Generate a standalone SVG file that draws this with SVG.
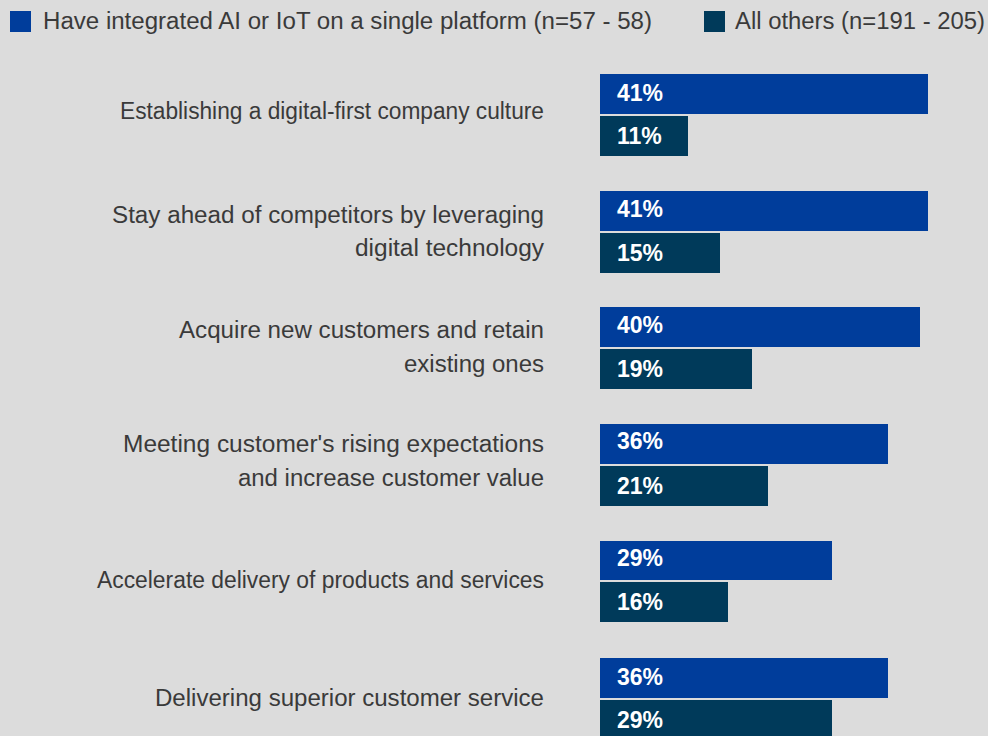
<svg xmlns="http://www.w3.org/2000/svg" width="988" height="736" viewBox="0 0 988 736">
<style>
.lbl{font-family:"Liberation Sans",Arial,sans-serif;font-size:23px;fill:#3a3a3a;text-anchor:end}
.leg{font-family:"Liberation Sans",Arial,sans-serif;font-size:23px;fill:#3a3a3a}
.val{font-family:"Liberation Sans",Arial,sans-serif;font-size:23px;font-weight:bold;fill:#ffffff}
.a{fill:#003d9b}
.b{fill:#003a5a}
</style>
<rect width="988" height="736" fill="#dcdcdc"/>
<g id="legend">
<rect class="a" x="10" y="11" width="21" height="21"/>
<text class="leg" x="43" y="29" textLength="609" lengthAdjust="spacingAndGlyphs">Have integrated AI or IoT on a single platform (n=57 - 58)</text>
<rect class="b" x="704" y="11" width="21" height="21"/>
<text class="leg" x="735" y="29" textLength="250" lengthAdjust="spacingAndGlyphs">All others (n=191 - 205)</text>
</g>
<g id="row1">
<text class="lbl" x="544" y="119" textLength="424" lengthAdjust="spacingAndGlyphs">Establishing a digital-first company culture</text>
<rect class="a" x="600" y="74" width="328" height="40"/>
<text class="val" x="617" y="101">41%</text>
<rect class="b" x="600" y="116" width="88" height="40"/>
<text class="val" x="617" y="144">11%</text>
</g>
<g id="row2">
<text class="lbl" x="544" y="223" textLength="432" lengthAdjust="spacingAndGlyphs">Stay ahead of competitors by leveraging</text>
<text class="lbl" x="544" y="256" textLength="189" lengthAdjust="spacingAndGlyphs">digital technology</text>
<rect class="a" x="600" y="191" width="328" height="40"/>
<text class="val" x="617" y="217">41%</text>
<rect class="b" x="600" y="233" width="120" height="40"/>
<text class="val" x="617" y="261">15%</text>
</g>
<g id="row3">
<text class="lbl" x="544" y="338" textLength="365" lengthAdjust="spacingAndGlyphs">Acquire new customers and retain</text>
<text class="lbl" x="544" y="372" textLength="140" lengthAdjust="spacingAndGlyphs">existing ones</text>
<rect class="a" x="600" y="307" width="320" height="40"/>
<text class="val" x="617" y="333">40%</text>
<rect class="b" x="600" y="349" width="152" height="40"/>
<text class="val" x="617" y="377">19%</text>
</g>
<g id="row4">
<text class="lbl" x="544" y="452" textLength="421" lengthAdjust="spacingAndGlyphs">Meeting customer's rising expectations</text>
<text class="lbl" x="544" y="486" textLength="306" lengthAdjust="spacingAndGlyphs">and increase customer value</text>
<rect class="a" x="600" y="424" width="288" height="40"/>
<text class="val" x="617" y="449">36%</text>
<rect class="b" x="600" y="466" width="168" height="40"/>
<text class="val" x="617" y="494">21%</text>
</g>
<g id="row5">
<text class="lbl" x="544" y="588" textLength="447" lengthAdjust="spacingAndGlyphs">Accelerate delivery of products and services</text>
<rect class="a" x="600" y="541" width="232" height="39"/>
<text class="val" x="617" y="566">29%</text>
<rect class="b" x="600" y="582" width="128" height="40"/>
<text class="val" x="617" y="610">16%</text>
</g>
<g id="row6">
<text class="lbl" x="544" y="706" textLength="389" lengthAdjust="spacingAndGlyphs">Delivering superior customer service</text>
<rect class="a" x="600" y="658" width="288" height="40"/>
<text class="val" x="617" y="685">36%</text>
<rect class="b" x="600" y="700" width="232" height="40"/>
<text class="val" x="617" y="728">29%</text>
</g>
</svg>
